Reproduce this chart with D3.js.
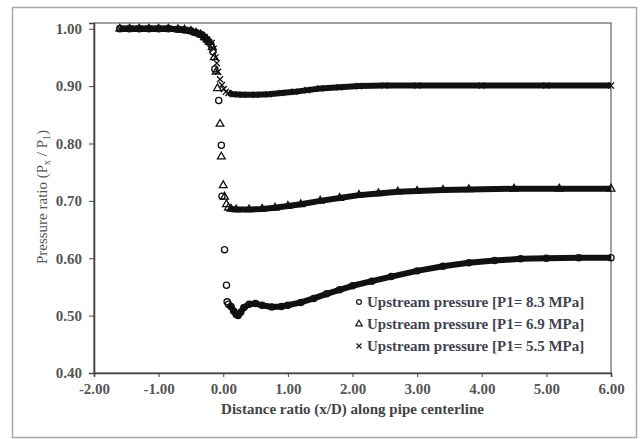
<!DOCTYPE html>
<html>
<head>
<meta charset="utf-8">
<script src="https://cdn.jsdelivr.net/npm/d3@7"></script>
<style>
  body { margin: 0; background: #fff; }
  svg { display: block; }
  .tick text { font-family: "Liberation Serif", serif; font-weight: bold; font-size: 15px; fill: #555; }
  .axis path, .axis line { stroke: #444; }
</style>
</head>
<body>
<div id="chart"></div>
<script>
var W = 642, H = 439

// upstream plateau, shared by all three runs (markers overlap there)
var upX = [-1.60, -1.45, -1.30, -1.15, -1.00, -0.85, -0.70, -0.60, -0.50, -0.42, -0.35, -0.29, -0.25, -0.22]
var upY = [1.000, 1.000, 1.000, 1.000, 1.000, 1.000, 0.999, 0.998, 0.996, 0.993, 0.990, 0.985, 0.981, 0.977]

// P1 = 8.3 MPa (circles)
var dropX83 = [-0.19, -0.16, -0.13, -0.07, -0.03, -0.02, 0.02, 0.05, 0.06]
var dropY83 = [0.972, 0.960, 0.930, 0.875, 0.797, 0.708, 0.615, 0.553, 0.524]
var tailX83 = [0.08, 0.12, 0.16, 0.20, 0.23, 0.27, 0.32, 0.40, 0.50, 0.60, 0.75, 0.90, 1.00, 1.20, 1.40, 1.60, 1.80, 2.00, 2.30, 2.60, 3.00, 3.40, 3.80, 4.20, 4.60, 5.00, 5.50, 6.00]
var tailY83 = [0.520, 0.516, 0.508, 0.502, 0.500, 0.506, 0.514, 0.520, 0.521, 0.518, 0.515, 0.516, 0.518, 0.523, 0.530, 0.538, 0.545, 0.552, 0.560, 0.568, 0.578, 0.586, 0.592, 0.596, 0.599, 0.600, 0.601, 0.601]

// P1 = 6.9 MPa (triangles)
var dropX69 = [-0.17, -0.14, -0.11, -0.09, -0.05, -0.03, 0.00, 0.02, 0.05]
var dropY69 = [0.968, 0.950, 0.925, 0.896, 0.834, 0.777, 0.727, 0.707, 0.694]
var tailX69 = [0.08, 0.12, 0.20, 0.40, 0.60, 0.80, 1.00, 1.20, 1.50, 1.80, 2.10, 2.40, 2.70, 3.00, 3.40, 3.80, 4.50, 5.20, 6.00]
var tailY69 = [0.688, 0.686, 0.685, 0.685, 0.686, 0.688, 0.691, 0.694, 0.700, 0.705, 0.710, 0.713, 0.716, 0.717, 0.719, 0.720, 0.721, 0.721, 0.721]

// P1 = 5.5 MPa (crosses)
var dropX55 = [-0.18, -0.15, -0.12, -0.10, -0.08, -0.05, -0.02, 0.01, 0.04]
var dropY55 = [0.975, 0.965, 0.950, 0.940, 0.925, 0.912, 0.902, 0.895, 0.890]
var tailX55 = [0.08, 0.15, 0.30, 0.50, 0.70, 0.90, 1.10, 1.30, 1.50, 1.80, 2.10, 2.50, 3.00, 4.00, 5.00, 6.00]
var tailY55 = [0.888, 0.886, 0.885, 0.885, 0.886, 0.888, 0.890, 0.893, 0.896, 0.898, 0.900, 0.901, 0.901, 0.901, 0.901, 0.901]

var xTicks = [-2, -1, 0, 1, 2, 3, 4, 5, 6]
var yTicks = [0.4, 0.5, 0.6, 0.7, 0.8, 0.9, 1.0]
var legendLabels = ["Upstream pressure [P1= 8.3 MPa]", "Upstream pressure [P1= 6.9 MPa]", "Upstream pressure [P1= 5.5 MPa]"]

var zip = function(xs, ys) { return xs.map(function(v, i) { return [v, ys[i]] }) }

var series = [
  { sym: d3.symbolCircle, size: 30, up: zip(upX, upY), drop: zip(dropX83, dropY83), tail: zip(tailX83, tailY83) },
  { sym: d3.symbolTriangle, size: 26, up: zip(upX, upY), drop: zip(dropX69, dropY69), tail: zip(tailX69, tailY69) },
  { sym: d3.symbolTimes, size: 26, up: zip(upX, upY), drop: zip(dropX55, dropY55), tail: zip(tailX55, tailY55) }
]

var margin = {top: 23, right: 31, bottom: 66, left: 94}

var x = d3.scaleLinear().domain([-2, 6]).range([margin.left, W - margin.right])
var y = d3.scaleLinear().domain([0.40, 1.01]).range([H - margin.bottom, margin.top])

var fmt = function(d) { return d3.format('.2f')(d).replace('\u2212', '-') }

var svg = d3.select('#chart').append('svg')
    .attr('width', W)
    .attr('height', H)

// outer frame
svg.append('rect')
    .attr('x', 12.5).attr('y', 7.5)
    .attr('width', 624).attr('height', 430)
    .attr('fill', 'none').attr('stroke', '#a8a8a8').attr('stroke-width', 1.5)

// plot frame
svg.append('rect')
    .attr('x', x(-2)).attr('y', margin.top)
    .attr('width', x(6) - x(-2)).attr('height', y(0.4) - margin.top)
    .attr('fill', 'none').attr('stroke', '#444').attr('stroke-width', 1)

svg.append('g')
    .attr('class', 'axis')
    .attr('transform', 'translate(0,' + y(0.4) + ')')
    .call(d3.axisBottom(x).tickValues(xTicks).tickFormat(fmt).tickSize(4).tickPadding(6))
    .call(function(g) { g.select('.domain').attr('stroke-width', 1.6) })

svg.append('g')
    .attr('class', 'axis')
    .attr('transform', 'translate(' + x(-2) + ',0)')
    .call(d3.axisLeft(y).tickValues(yTicks).tickFormat(fmt).tickSize(5).tickPadding(7))
    .call(function(g) { g.select('.domain').attr('stroke-width', 1.6) })

var line = d3.line()
    .x(function(d) { return x(d[0]) })
    .y(function(d) { return y(d[1]) })

var marks = svg.append('g')

series.forEach(function(s) {
  // dense runs of markers merge into a solid band
  [s.up, s.tail].forEach(function(seg) {
    marks.append('path')
        .attr('d', line(seg))
        .attr('fill', 'none')
        .attr('stroke', '#111')
        .attr('stroke-width', 6)
        .attr('stroke-linejoin', 'round')
        .attr('stroke-linecap', 'butt')
  })
  var pts = s.up.concat(s.drop, s.tail)
  marks.selectAll(null)
      .data(pts)
      .enter().append('path')
      .attr('transform', function(d) { return 'translate(' + x(d[0]) + ',' + y(d[1]) + ')' })
      .attr('d', d3.symbol().type(s.sym).size(s.size))
      .attr('fill', 'none')
      .attr('stroke', '#111')
      .attr('stroke-width', 1.3)
})

// legend
var legend = svg.append('g').attr('transform', 'translate(359,302)')
legendLabels.forEach(function(t, i) {
  legend.append('path')
      .attr('transform', 'translate(0,' + (i * 22) + ')')
      .attr('d', d3.symbol().type(series[i].sym).size(18))
      .attr('fill', 'none').attr('stroke', '#222').attr('stroke-width', 1.3)
  legend.append('text')
      .attr('x', 8).attr('y', i * 22)
      .attr('dy', '0.35em')
      .attr('font-family', '"Liberation Serif", serif')
      .attr('font-weight', 'bold')
      .attr('font-size', 15)
      .attr('fill', '#3f4350')
      .text(t)
})

// axis titles
svg.append('text')
    .attr('x', (x(-2) + x(6)) / 2).attr('y', 414)
    .attr('text-anchor', 'middle')
    .attr('font-family', '"Liberation Serif", serif')
    .attr('font-weight', 'bold')
    .attr('font-size', 15)
    .attr('fill', '#444')
    .text('Distance ratio (x/D) along pipe centerline')

var yt = svg.append('text')
    .attr('transform', 'translate(47,197) rotate(-90)')
    .attr('text-anchor', 'middle')
    .attr('font-family', '"Liberation Serif", serif')
    .attr('font-size', 15)
    .attr('fill', '#555')
yt.append('tspan').text('Pressure ratio (P')
yt.append('tspan').attr('font-size', 10).attr('dy', 3).text('x')
yt.append('tspan').attr('dy', -3).text(' / P')
yt.append('tspan').attr('font-size', 10).attr('dy', 3).text('1')
yt.append('tspan').attr('dy', -3).text(')')
</script>
</body>
</html>
